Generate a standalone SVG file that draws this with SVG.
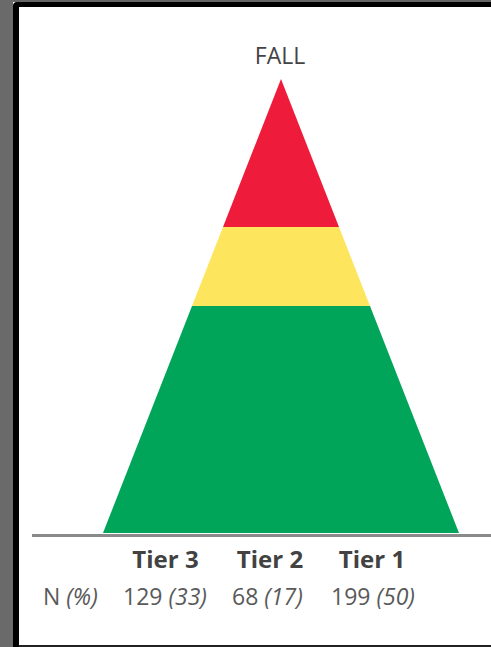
<svg xmlns="http://www.w3.org/2000/svg" width="491" height="647" viewBox="0 0 491 647">
<style>
.lbl{font-family:"Open Sans","Noto Sans",sans-serif;fill:#595959;font-size:23px}
.tier{font-weight:bold;fill:#424242;font-size:24px}
.it{font-style:italic}
</style>
<rect width="491" height="647" fill="#fff"/>
<g id="frame">
<rect x="0" y="0" width="491" height="2" fill="#666"/>
<rect x="0" y="0" width="13" height="647" fill="#6a6a6a"/>
<path d="M13 647 V6 Q13 2 17 2 H491 V7 H19 V647 Z" fill="#000"/>
<rect x="19" y="645" width="472" height="2" fill="#222"/>
</g>
<g id="pyramid">
<polygon id="tier1" points="192,306 370,306 459,533 103,533" fill="#00A55A"/>
<polygon id="tier2" points="223,227 339,227 370,306 192,306" fill="#FDE55E"/>
<polygon id="tier3" points="281,79 339,227 223,227" fill="#EE1B3B"/>
</g>
<g id="connectors">
<line x1="32" y1="535.5" x2="491" y2="535.5" stroke="#8a8a8a" stroke-width="3"/>
</g>
<g id="title"><text class="lbl" x="280" y="64" text-anchor="middle" style="fill:#444">FALL</text></g>
<g id="tiers">
<text class="lbl tier" x="165.5" y="568" text-anchor="middle">Tier 3</text>
<text class="lbl tier" x="270" y="568" text-anchor="middle">Tier 2</text>
<text class="lbl tier" x="372" y="568" text-anchor="middle">Tier 1</text>
</g>
<g id="values">
<text class="lbl" x="43" y="605">N <tspan class="it">(%)</tspan></text>
<text class="lbl" x="123" y="605">129 <tspan class="it">(33)</tspan></text>
<text class="lbl" x="232" y="605">68 <tspan class="it">(17)</tspan></text>
<text class="lbl" x="331" y="605">199 <tspan class="it">(50)</tspan></text>
</g>
</svg>
